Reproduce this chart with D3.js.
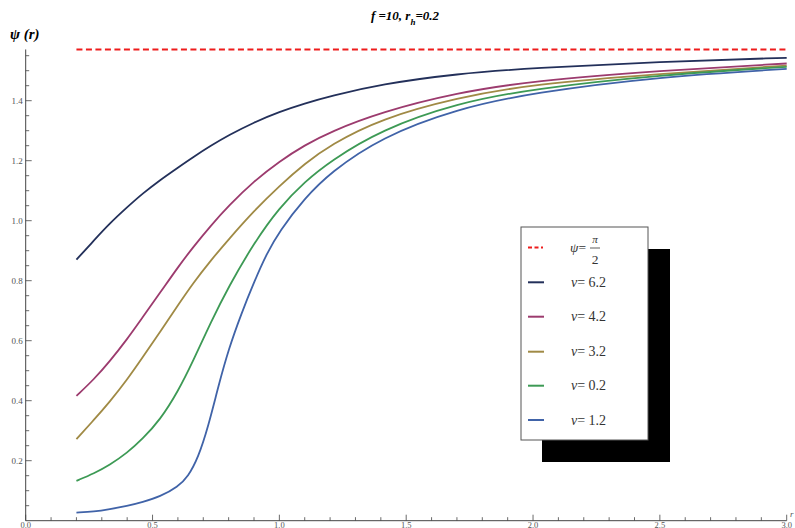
<!DOCTYPE html>
<html>
<head>
<meta charset="utf-8">
<script src="https://cdn.jsdelivr.net/npm/d3@7"></script>
<style>
  body { margin: 0; background: #fff; }
  svg { display: block; }
  svg text { font-family: "Liberation Serif", "Times New Roman", "DejaVu Serif", serif; }
</style>
</head>
<body>
<div id="chart"></div>
<script>
// series: [r, psi]
const nu62 = [[0.2,0.87],[0.27,0.935],[0.33,0.99],[0.4,1.045],[0.46,1.09],[0.53,1.136],[0.6,1.177],[0.66,1.212],[0.73,1.25],[0.8,1.285],[0.9,1.328],[1.0,1.363],[1.1,1.391],[1.2,1.415],[1.4,1.455],[1.7,1.49],[2.0,1.509],[2.5,1.53],[3.0,1.543]];
const nu42 = [[0.2,0.416],[0.27,0.472],[0.33,0.53],[0.4,0.605],[0.46,0.677],[0.53,0.76],[0.6,0.845],[0.66,0.912],[0.73,0.984],[0.8,1.05],[0.9,1.132],[1.0,1.198],[1.1,1.252],[1.2,1.296],[1.4,1.362],[1.7,1.427],[2.0,1.466],[2.5,1.5],[3.0,1.524]];
const nu32 = [[0.2,0.272],[0.27,0.337],[0.33,0.395],[0.4,0.47],[0.46,0.543],[0.53,0.63],[0.6,0.718],[0.66,0.792],[0.73,0.868],[0.8,0.938],[0.9,1.033],[1.0,1.116],[1.1,1.19],[1.2,1.252],[1.4,1.34],[1.7,1.41],[2.0,1.455],[2.5,1.49],[3.0,1.517]];
const nu02 = [[0.2,0.133],[0.27,0.158],[0.33,0.185],[0.4,0.226],[0.46,0.272],[0.53,0.336],[0.6,0.43],[0.66,0.532],[0.73,0.662],[0.8,0.78],[0.9,0.926],[1.0,1.044],[1.1,1.13],[1.2,1.198],[1.4,1.303],[1.7,1.392],[2.0,1.44],[2.5,1.486],[3.0,1.513]];
const nu12 = [[0.2,0.027],[0.27,0.03],[0.33,0.038],[0.4,0.049],[0.46,0.062],[0.53,0.08],[0.6,0.113],[0.64,0.147],[0.68,0.21],[0.72,0.315],[0.76,0.45],[0.8,0.572],[0.85,0.69],[0.9,0.795],[0.95,0.89],[1.0,0.965],[1.1,1.075],[1.2,1.16],[1.4,1.278],[1.7,1.373],[2.0,1.427],[2.5,1.48],[3.0,1.506]];

const seriesNames = ["ν= 6.2", "ν= 4.2", "ν= 3.2", "ν= 0.2", "ν= 1.2"];
const seriesColors = ["#23305a", "#9c3b6e", "#a08a45", "#3d9a55", "#4063a8"];
const seriesData = [nu62, nu42, nu32, nu02, nu12];

const xMajor = [0, 0.5, 1.0, 1.5, 2.0, 2.5, 3.0];
const yMajor = [0.2, 0.4, 0.6, 0.8, 1.0, 1.2, 1.4];
const psiLimit = Math.PI / 2;
const rRange = [0.2, 3.0];

const W = 795, H = 528;
const svg = d3.select("#chart").append("svg").attr("width", W).attr("height", H);

// scales (pixel frame)
const x = d3.scaleLinear().domain([0, 3]).range([25.7, 786.7]);
const y = d3.scaleLinear().domain([0, 1]).range([520.7, 220.7]);

const axisColor = "#444";

// title and axis label
svg.append("text")
  .attr("x", 405).attr("y", 20)
  .attr("text-anchor", "middle")
  .style("font-size", "13px").style("font-weight", "bold").style("font-style", "italic")
  .html('f =10, r<tspan baseline-shift="sub" font-size="9px">h</tspan>=0.2');

svg.append("text")
  .attr("x", 10).attr("y", 39)
  .style("font-size", "15px").style("font-weight", "bold").style("font-style", "italic")
  .text("ψ (r)");

// x axis
const xAxis = svg.append("g");
xAxis.append("line")
  .attr("x1", x(0)).attr("x2", x(3))
  .attr("y1", y(0)).attr("y2", y(0))
  .attr("stroke", axisColor).attr("stroke-width", 1);
xAxis.selectAll("line.minor")
  .data(d3.range(0, 31).map(i => i / 10))
  .join("line")
  .attr("class", "minor")
  .attr("x1", d => x(d)).attr("x2", d => x(d))
  .attr("y1", y(0)).attr("y2", (d, i) => y(0) - (i % 5 === 0 ? 6 : 3.5))
  .attr("stroke", axisColor).attr("stroke-width", 0.8);
xAxis.selectAll("text")
  .data(xMajor)
  .join("text")
  .attr("x", d => x(d)).attr("y", 527.5)
  .attr("text-anchor", "middle")
  .attr("fill", "#555")
  .style("font-size", "8.5px")
  .text(d => d.toFixed(1));
xAxis.append("text")
  .attr("x", 790).attr("y", 517)
  .attr("fill", "#555")
  .style("font-size", "9px").style("font-style", "italic")
  .text("r");

// y axis
const yAxis = svg.append("g");
yAxis.append("line")
  .attr("x1", x(0)).attr("x2", x(0))
  .attr("y1", y(0)).attr("y2", y(psiLimit))
  .attr("stroke", axisColor).attr("stroke-width", 1);
yAxis.selectAll("line.minor")
  .data(d3.range(1, 32).map(i => i * 0.05))
  .join("line")
  .attr("class", "minor")
  .attr("x1", x(0)).attr("x2", (d, i) => x(0) + ((i + 1) % 4 === 0 ? 6 : 3.5))
  .attr("y1", d => y(d)).attr("y2", d => y(d))
  .attr("stroke", axisColor).attr("stroke-width", 0.8);
yAxis.selectAll("text")
  .data(yMajor)
  .join("text")
  .attr("x", x(0) - 3).attr("y", d => y(d) + 3)
  .attr("text-anchor", "end")
  .attr("fill", "#555")
  .style("font-size", "9px")
  .text(d => d.toFixed(1));

// reference line psi = pi/2
svg.append("line")
  .attr("x1", x(rRange[0])).attr("x2", x(rRange[1]))
  .attr("y1", y(psiLimit)).attr("y2", y(psiLimit))
  .attr("stroke", "#ee1c1c").attr("stroke-width", 2)
  .attr("stroke-dasharray", "6,3.5");

// curves
const line = d3.line()
  .x(d => x(d[0]))
  .y(d => y(d[1]))
  .curve(d3.curveBasis);

svg.selectAll("path.curve")
  .data(seriesData)
  .join("path")
  .attr("class", "curve")
  .attr("d", line)
  .attr("fill", "none")
  .attr("stroke", (d, i) => seriesColors[i])
  .attr("stroke-width", 1.8);

// legend with shadow
const lg = svg.append("g").attr("transform", "translate(521,227)");
lg.append("rect")
  .attr("x", 21).attr("y", 22).attr("width", 128).attr("height", 213)
  .attr("fill", "#000");
lg.append("rect")
  .attr("x", 0).attr("y", 0).attr("width", 127).attr("height", 213)
  .attr("fill", "#fff").attr("stroke", "#555").attr("stroke-width", 1);

const rowY = [20.5, 55.3, 89.7, 124.7, 158.7, 193];
lg.append("line")
  .attr("x1", 7).attr("x2", 22)
  .attr("y1", rowY[0]).attr("y2", rowY[0])
  .attr("stroke", "#ee1c1c").attr("stroke-width", 2)
  .attr("stroke-dasharray", "4,2.5");
lg.append("text")
  .attr("x", 49).attr("y", rowY[0] + 4.5)
  .attr("fill", "#333")
  .style("font-size", "13.5px")
  .html('<tspan font-style="italic">ψ</tspan>=');
lg.append("text")
  .attr("x", 74).attr("y", rowY[0] - 5)
  .attr("text-anchor", "middle").attr("fill", "#333")
  .style("font-size", "11px").style("font-style", "italic")
  .text("π");
lg.append("line")
  .attr("x1", 69).attr("x2", 79)
  .attr("y1", rowY[0] + 0.5).attr("y2", rowY[0] + 0.5)
  .attr("stroke", "#333").attr("stroke-width", 0.8);
lg.append("text")
  .attr("x", 74).attr("y", rowY[0] + 16)
  .attr("text-anchor", "middle").attr("fill", "#333")
  .style("font-size", "13.5px")
  .text("2");

seriesNames.forEach((name, i) => {
  const yy = rowY[i + 1];
  lg.append("line")
    .attr("x1", 7).attr("x2", 23)
    .attr("y1", yy).attr("y2", yy)
    .attr("stroke", seriesColors[i]).attr("stroke-width", 2);
  lg.append("text")
    .attr("x", 50).attr("y", yy + 4.5)
    .attr("fill", "#333")
    .style("font-size", "14px")
    .html('<tspan font-style="italic">ν</tspan>' + name.slice(1));
});
</script>
</body>
</html>
